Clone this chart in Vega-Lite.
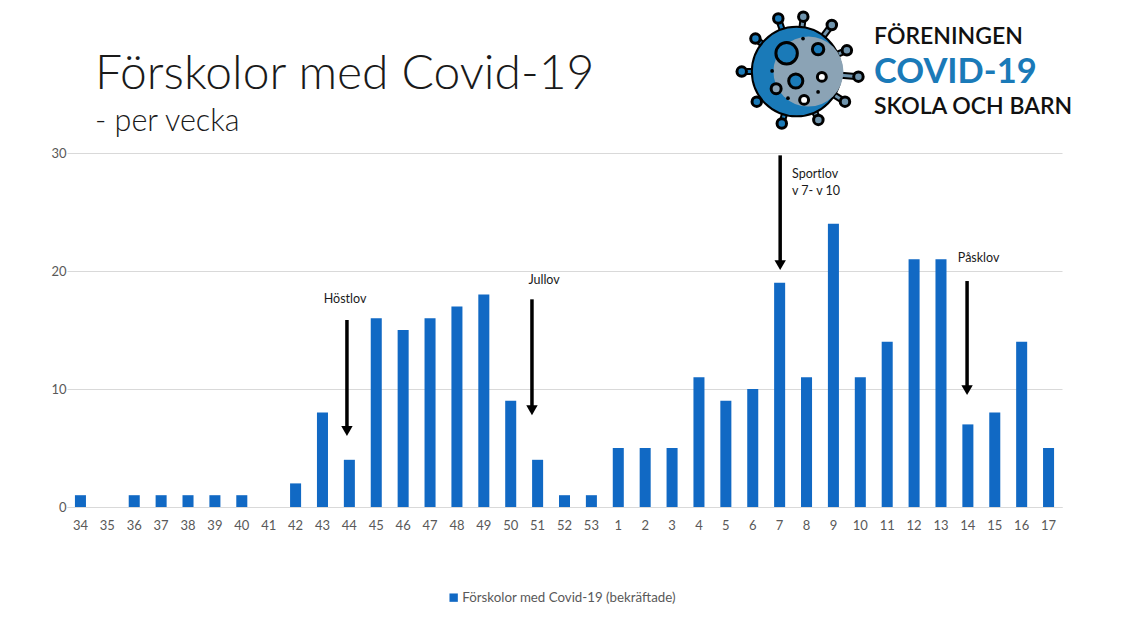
{"$schema":"https://vega.github.io/schema/vega-lite/v6.json","width":995,"height":354,"autosize":{"type":"none"},"padding":{"left":67,"top":153,"right":78,"bottom":134},"background":"white","config":{"font":"Lato","view":{"stroke":null}},
"title":{"text":"Förskolor med Covid-19","subtitle":"- per vecka","anchor":"start","frame":"group","dx":28,"offset":-132,"limit":700,"font":"Lato","fontWeight":300,"fontSize":48,"color":"#1a1a1a","subtitleFont":"Lato","subtitleFontWeight":300,"subtitleFontSize":30.5,"subtitleColor":"#1a1a1a","subtitlePadding":8},
"datasets":{"weeks":[{"vecka":"34","antal":1},{"vecka":"35","antal":0},{"vecka":"36","antal":1},{"vecka":"37","antal":1},{"vecka":"38","antal":1},{"vecka":"39","antal":1},{"vecka":"40","antal":1},{"vecka":"41","antal":0},{"vecka":"42","antal":2},{"vecka":"43","antal":8},{"vecka":"44","antal":4},{"vecka":"45","antal":16},{"vecka":"46","antal":15},{"vecka":"47","antal":16},{"vecka":"48","antal":17},{"vecka":"49","antal":18},{"vecka":"50","antal":9},{"vecka":"51","antal":4},{"vecka":"52","antal":1},{"vecka":"53","antal":1},{"vecka":"1","antal":5},{"vecka":"2","antal":5},{"vecka":"3","antal":5},{"vecka":"4","antal":11},{"vecka":"5","antal":9},{"vecka":"6","antal":10},{"vecka":"7","antal":19},{"vecka":"8","antal":11},{"vecka":"9","antal":24},{"vecka":"10","antal":11},{"vecka":"11","antal":14},{"vecka":"12","antal":21},{"vecka":"13","antal":21},{"vecka":"14","antal":7},{"vecka":"15","antal":8},{"vecka":"16","antal":14},{"vecka":"17","antal":5}],
"spikes":[{"lx":27.13,"ly":36.9,"lx2":26.45,"ly2":41.4,"c":"#1a7ab8"},{"lx":27.13,"ly":36.9,"lx2":27.38,"ly2":41.55,"c":"#6f94ad"},{"lx":27.13,"ly":36.9,"lx2":28.44,"ly2":40.85,"c":"#6f94ad"},{"lx":27.13,"ly":36.9,"lx2":29.0,"ly2":38.7,"c":"#6f94ad"},{"lx":27.13,"ly":36.9,"lx2":29.43,"ly2":36.47,"c":"#6f94ad"},{"lx":27.13,"ly":36.9,"lx2":28.93,"ly2":34.35,"c":"#6f94ad"},{"lx":27.13,"ly":36.9,"lx2":27.94,"ly2":32.8,"c":"#6f94ad"},{"lx":27.13,"ly":36.9,"lx2":26.58,"ly2":32.5,"c":"#1a7ab8"},{"lx":27.13,"ly":36.9,"lx2":25.65,"ly2":34.35,"c":"#1a7ab8"},{"lx":27.13,"ly":36.9,"lx2":25.09,"ly2":36.9,"c":"#1a7ab8"},{"lx":27.13,"ly":36.9,"lx2":25.6,"ly2":39.7,"c":"#1a7ab8"}]},
"resolve":{"scale":{"x":"independent"}},
"layer":[
{"data":{"name":"weeks"},"transform":[{"calculate":"'Förskolor med Covid-19 (bekräftade)'","as":"serie"}],"mark":{"type":"bar"},"encoding":{"x":{"field":"vecka","type":"ordinal","sort":null,"title":null,"scale":{"paddingInner":0.59,"paddingOuter":0.295},"axis":{"labelAngle":0,"labelColor":"#595959","labelFontSize":13,"labelPadding":12,"ticks":false,"domainColor":"#d9d9d9","grid":false}},"y":{"field":"antal","type":"quantitative","title":null,"scale":{"domain":[0,30]},"axis":{"values":[0,10,20,30],"labelColor":"#595959","labelFontSize":13,"labelPadding":1,"ticks":false,"domain":false,"grid":true,"gridColor":"#d9d9d9"}},"color":{"field":"serie","type":"nominal","title":null,"scale":{"range":["#1169c4"]},"legend":{"orient":"none","legendX":380,"legendY":438,"symbolType":"square","symbolSize":70,"labelFontSize":13.3,"labelOffset":2,"labelColor":"#595959","labelFont":"Lato","labelLimit":400}}}},
{"encoding":{"x":{"field":"lx","type":"quantitative","scale":{"domain":[0,37]},"axis":null},"y":{"field":"ly","type":"quantitative","title":null}},"layer":[
{"data":{"values":[{"lx":10.41,"ly":15.85,"lx2":10.41,"ly2":6.6},{"lx":17.29,"ly":17.6,"lx2":17.29,"ly2":8.4},{"lx":26.52,"ly":29.8,"lx2":26.52,"ly2":20.7},{"lx":33.47,"ly":19.15,"lx2":33.47,"ly2":10.1}]},"mark":{"type":"rule","color":"#000000","strokeWidth":3.5},"encoding":{"x2":{"field":"lx2"},"y2":{"field":"ly2"}}},
{"data":{"values":[{"lx":10.41,"ly":6.44},{"lx":17.29,"ly":8.2},{"lx":26.52,"ly":20.5},{"lx":33.47,"ly":9.9}]},"mark":{"type":"point","shape":"triangle-down","filled":true,"color":"#000000","opacity":1,"size":130}},
{"data":{"values":[{"lx":10.34,"ly":17.66,"t":"Höstlov"},{"lx":17.74,"ly":19.2,"t":"Jullov"},{"lx":33.9,"ly":21.1,"t":"Påsklov"}]},"mark":{"type":"text","fontSize":12.5,"color":"#1a1a1a","font":"Lato"},"encoding":{"text":{"field":"t"}}},
{"data":{"values":[{"lx":26.96,"ly":28.2,"t":"Sportlov"},{"lx":26.96,"ly":26.75,"t":"v 7- v 10"}]},"mark":{"type":"text","fontSize":12.5,"color":"#1a1a1a","font":"Lato","align":"left"},"encoding":{"text":{"field":"t"}}},
{"data":{"values":[{"lx":30.01,"ly":39.85,"t":"FÖRENINGEN"},{"lx":30.01,"ly":33.9,"t":"SKOLA OCH BARN"}]},"mark":{"type":"text","fontSize":23,"fontWeight":600,"color":"#111111","font":"Lato","align":"left"},"encoding":{"text":{"field":"t"}}},
{"data":{"values":[{"lx":30.01,"ly":36.8,"t":"COVID-19"}]},"mark":{"type":"text","fontSize":34.5,"fontWeight":700,"color":"#1a7ab8","font":"Lato","align":"left"},"encoding":{"text":{"field":"t"}}},
{"data":{"name":"spikes"},"mark":{"type":"rule","color":"#000000","strokeWidth":7},"encoding":{"x2":{"field":"lx2"},"y2":{"field":"ly2"}}},
{"data":{"name":"spikes"},"mark":{"type":"rule","strokeWidth":3},"encoding":{"x2":{"field":"lx2"},"y2":{"field":"ly2"},"color":{"field":"c","type":"nominal","scale":null}}},
{"data":{"name":"spikes"},"mark":{"type":"point","filled":true,"stroke":"#000000","strokeWidth":3,"opacity":1,"size":90},"encoding":{"x":{"field":"lx2","type":"quantitative"},"y":{"field":"ly2","type":"quantitative"},"fill":{"field":"c","type":"nominal","scale":null}}},
{"data":{"values":[{"lx":27.13,"ly":36.9}]},"mark":{"type":"point","filled":true,"fill":"#1a7ab8","stroke":"#000000","strokeWidth":2,"opacity":1,"size":8000}},
{"data":{"values":[{"lx":27.57,"ly":36.9}]},"mark":{"type":"point","filled":true,"fill":"#8ba3b5","strokeWidth":0,"opacity":1,"size":4900}},
{"data":{"values":[{"lx":26.76,"ly":38.45,"c":"#1a7ab8","z":460},{"lx":27.93,"ly":38.8,"c":"#1a7ab8","z":130},{"lx":27.1,"ly":36.1,"c":"#1a7ab8","z":200},{"lx":28.07,"ly":36.45,"c":"#ffffff","z":80},{"lx":26.37,"ly":35.45,"c":"#8ba3b5","z":100},{"lx":27.41,"ly":34.5,"c":"#ffffff","z":80}]},"mark":{"type":"point","filled":true,"stroke":"#000000","strokeWidth":3,"opacity":1},"encoding":{"fill":{"field":"c","type":"nominal","scale":null},"size":{"field":"z","type":"quantitative","scale":null}}},
{"data":{"values":[{"lx":27.37,"ly":39.7},{"lx":26.22,"ly":36.95},{"lx":26.81,"ly":34.65},{"lx":27.93,"ly":35.17}]},"mark":{"type":"point","filled":true,"color":"#000000","opacity":1,"size":14}}
]}
]}
